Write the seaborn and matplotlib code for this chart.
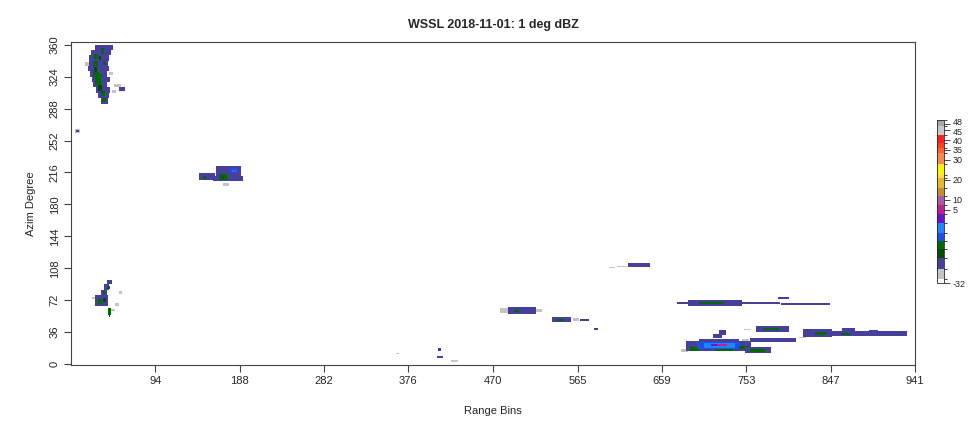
import numpy as np
import matplotlib
matplotlib.use("Agg")
import matplotlib.pyplot as plt
from matplotlib.colors import ListedColormap, BoundaryNorm
from matplotlib.cm import ScalarMappable
from matplotlib.transforms import ScaledTranslation
import seaborn as sns

# Reflectivity colour scale (dBZ breaks and band colours)
dbz_breaks = [-32, -30, -25, -19.5, -15, -11, -7, -2, 3, 7.5, 12, 16,
              21, 22.5, 28, 33.5, 36, 38.5, 42.5, 47, 50]
dbz_colors = ["#FFFFFF", "#C4C4C4", "#46409A", "#004C00", "#006A00",
              "#1E4FE8", "#1E84FF", "#6A12D0", "#C0208F", "#A85AA8",
              "#C09030", "#E8B828", "#F5DC48", "#FFF200", "#F88850",
              "#FF6030", "#FF4020", "#FF2020", "#C8C8C8", "#A8A8A8"]
cbar_ticks = [-32, 5, 10, 20, 30, 35, 40, 45, 48]

x_ticks = [94, 188, 282, 376, 470, 565, 659, 753, 847, 941]
y_ticks = [0, 36, 72, 108, 144, 180, 216, 252, 288, 324, 360]

n_range = 941
n_azim = 361

# Echo patches: (range start, range end, azimuth start, azimuth end, dBZ)
echoes = [
    # north-west cell, outer returns
    (27, 47, 354, 360, -22), (22, 45, 348, 354, -22), (20, 42, 342, 348, -22),
    (20, 41, 336, 342, -22), (19, 42, 330, 336, -22), (21, 40, 324, 330, -22),
    (23, 43, 318, 324, -22), (25, 40, 312, 318, -22), (28, 44, 306, 312, -22),
    (30, 42, 300, 306, -22), (33, 41, 293, 300, -22),
    (48, 56, 312, 316, -28), (54, 60, 308, 312, -22), (46, 50, 306, 309, -28),
    (16, 20, 336, 340, -28), (42, 47, 326, 329, -28),
    # north-west cell, core
    (33, 37, 350, 356, -13), (26, 30, 344, 350, -13), (31, 34, 343, 347, -17),
    (24, 30, 336, 342, -13), (26, 29, 329, 335, -17), (25, 31, 322, 329, -13),
    (32, 35, 324, 327, -13), (27, 33, 315, 322, -13), (30, 35, 308, 314, -17),
    (33, 38, 302, 308, -13), (35, 39, 295, 300, -13), (36, 39, 337, 341, -13),
    # speck at the left edge
    (4, 10, 261, 265, -28), (6, 9, 262, 264, -22),
    # cell near 215 deg
    (143, 160, 207, 215, -22), (147, 151, 209, 212, -13),
    (158, 192, 206, 212, -22), (162, 190, 212, 223, -22),
    (165, 174, 207, 214, -13), (168, 171, 209, 212, -17),
    (177, 186, 215, 221, -9), (179, 184, 216, 219, -4), (181, 183, 217, 219, 5),
    (170, 176, 201, 204, -28),
    # cell near 75 deg
    (40, 46, 90, 95, -22), (37, 42, 84, 90, -22), (40, 43, 85, 88, -13),
    (34, 40, 78, 84, -22), (36, 38, 79, 83, -13),
    (27, 41, 66, 78, -22), (30, 35, 68, 73, -13), (36, 39, 70, 75, -17),
    (23, 27, 73, 76, -28), (41, 45, 55, 63, -13), (42, 44, 53, 56, -17),
    (49, 54, 66, 69, -28), (53, 57, 79, 82, -28), (45, 49, 60, 62, -28),
    # isolated specks
    (362, 366, 11, 13, -28), (409, 413, 15, 18, -22), (408, 415, 7, 9, -22),
    (424, 431, 3, 5, -28),
    # cell near 60 deg
    (478, 488, 58, 63, -28), (487, 518, 57, 64, -22), (494, 500, 59, 61, -13),
    (518, 525, 59, 62, -28),
    # cell near 50 deg
    (536, 557, 47, 53, -22), (542, 548, 49, 51, -13), (560, 566, 49, 52, -28),
    (567, 578, 49, 51, -22),
    (583, 588, 38, 41, -22),
    # cell near 110 deg
    (600, 606, 108, 110, -28), (609, 620, 109, 111, -28), (621, 646, 109, 114, -22),
    # long band near 69 deg
    (676, 690, 68, 70, -22), (688, 748, 66, 72, -22), (700, 728, 68, 70, -13),
    (748, 790, 68, 70, -22), (792, 846, 67, 69, -22), (788, 800, 73, 76, -22),
    # strongest cell near 20 deg
    (680, 688, 14, 17, -28), (686, 758, 15, 26, -22), (700, 745, 26, 28, -22),
    (716, 726, 29, 34, -22), (722, 730, 33, 38, -22),
    (690, 700, 15, 19, -13), (698, 746, 17, 25, -9), (706, 740, 18, 24, -4),
    (714, 728, 20, 23, 0), (720, 731, 21, 23, 5), (745, 756, 17, 21, -13),
    (718, 738, 15, 17, -13),
    (752, 780, 13, 19, -22), (757, 774, 14, 17, -13),
    (750, 758, 38, 40, -28), (764, 800, 36, 43, -22), (772, 789, 38, 41, -13),
    (748, 756, 26, 28, -28), (757, 808, 25, 29, -22),
    # band near 34 deg
    (812, 820, 29, 31, -28), (816, 848, 31, 40, -22), (846, 932, 32, 37, -22),
    (830, 842, 33, 36, -13), (858, 868, 33, 35, -13), (860, 874, 37, 41, -22),
    (890, 900, 37, 39, -22),
]

# Polar grid of reflectivity: rows are azimuth degrees, columns range bins
grid = np.full((n_azim, n_range), np.nan)
for r0, r1, a0, a1, z in echoes:
    grid[a0:a1, r0:r1] = z

sns.set_style("ticks")
plt.rcParams["font.family"] = ["Liberation Sans", "DejaVu Sans"]

cmap = ListedColormap(dbz_colors)
norm = BoundaryNorm(dbz_breaks, cmap.N)

fig = plt.figure(figsize=(9.78, 4.24), dpi=100)
ax = fig.add_axes([0.0726, 0.139, 0.8630, 0.762])
sns.heatmap(grid, ax=ax, cmap=cmap, norm=norm, cbar=False,
            xticklabels=False, yticklabels=False)

ax.set_xlim(0, 941)
ax.set_ylim(-1, 363)
for side in ["top", "right", "bottom", "left"]:
    ax.spines[side].set_visible(True)
    ax.spines[side].set_color("#444444")
    ax.spines[side].set_linewidth(0.8)

ax.set_xticks(x_ticks)
ax.set_xticklabels([str(v) for v in x_ticks], fontsize=8)
ax.set_yticks(y_ticks)
ax.set_yticklabels([str(v) for v in y_ticks], fontsize=8, rotation=90,
                   va="center")
ax.tick_params(axis="both", direction="out", length=5, width=0.8,
               color="#444444", bottom=True, left=True, pad=3)

ax.set_xlabel("Range Bins", fontsize=8, labelpad=14)
ax.set_ylabel("Azim Degree", fontsize=8, labelpad=10)
ax.set_title("WSSL 2018-11-01: 1 deg dBZ", fontsize=9, fontweight="bold",
             pad=10)

# Colour legend strip
cax = fig.add_axes([0.958, 0.3325, 0.0075, 0.384])
sm = ScalarMappable(norm=norm, cmap=cmap)
cb = fig.colorbar(sm, cax=cax, ticks=cbar_ticks, spacing="proportional")
cb.ax.set_yticklabels([str(v) for v in cbar_ticks], fontsize=6.5)
cb.ax.tick_params(length=4, width=0.6, pad=2)
cb.outline.set_linewidth(0.6)
# nudge the two crowded top labels apart
top_labels = cb.ax.get_yticklabels()
top_labels[-1].set_transform(top_labels[-1].get_transform()
                             + ScaledTranslation(0, 2 / 72, fig.dpi_scale_trans))
top_labels[-2].set_transform(top_labels[-2].get_transform()
                             + ScaledTranslation(0, -1 / 72, fig.dpi_scale_trans))

fig.savefig("out.png", dpi=100)
